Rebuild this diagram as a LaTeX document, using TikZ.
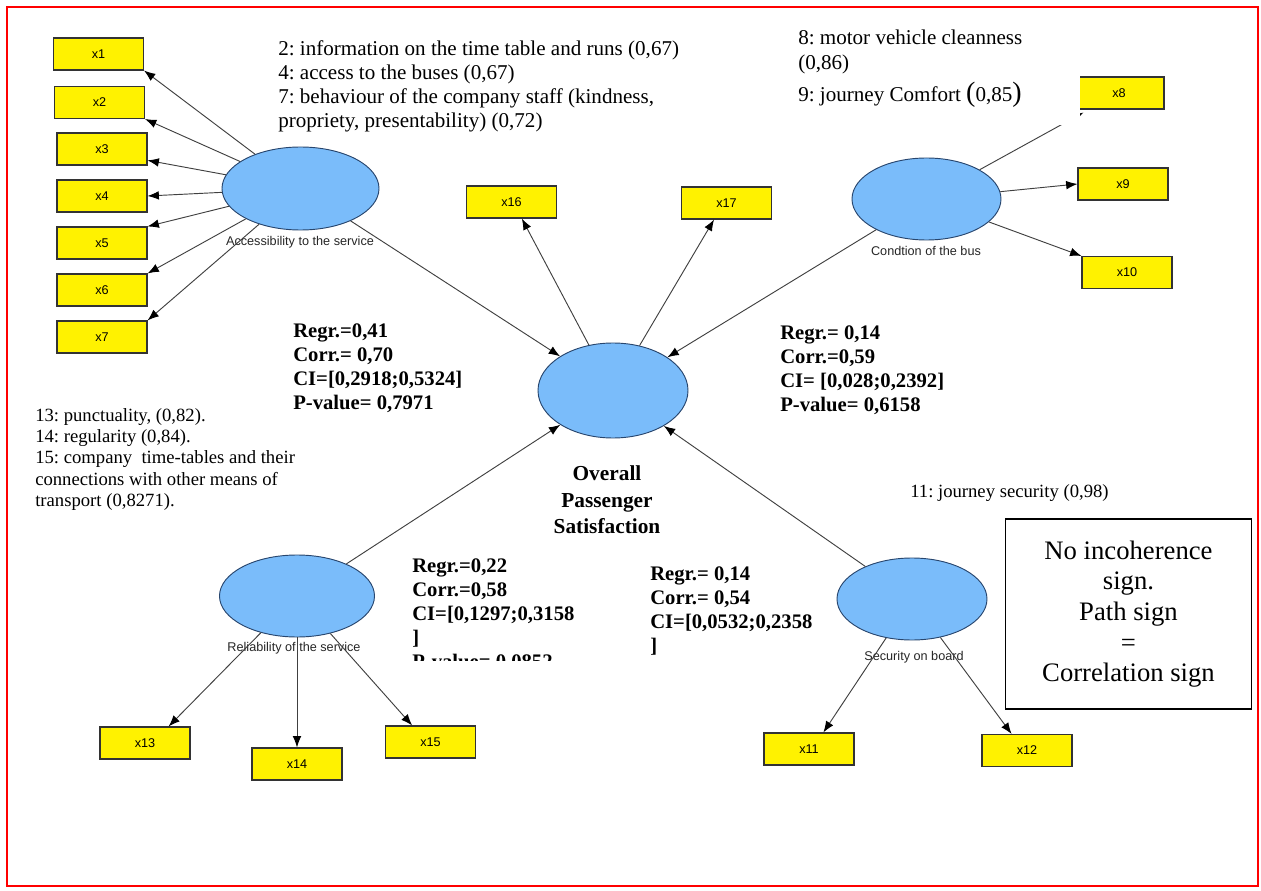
\documentclass[tikz,border=0pt]{standalone}
\usepackage{fontspec}
\setmainfont{Liberation Serif}
\setsansfont{Liberation Sans}
\usetikzlibrary{shapes.geometric,arrows.meta}
\definecolor{latblue}{RGB}{122,188,250}
\definecolor{latedge}{RGB}{40,70,110}
\frenchspacing

\begin{document}
\begin{tikzpicture}[x=0.75pt,y=-0.75pt,
    ind/.style={draw=black!80,line width=0.8pt,fill=yellow,minimum width=67.5pt,minimum height=24pt,
        inner sep=0pt,font=\sffamily\fontsize{9.5}{11}\selectfont},
    lat/.style={ellipse,draw=latedge,line width=0.7pt,fill=latblue,inner sep=0pt},
    lbl/.style={inner sep=0pt,text=black!85,font=\sffamily\fontsize{9.5}{11}\selectfont},
    load/.style={draw=black!75,line width=0.7pt,-{Latex[length=8.5pt,width=6.5pt,color=black]}},
    note/.style={align=left,inner sep=0pt,anchor=north west},
    stat/.style={align=left,inner sep=0pt,anchor=north west,
        font=\bfseries\fontsize{15.5}{18}\selectfont}]
\useasboundingbox (0,0) rectangle (1261,891);
\draw[red,line width=1.5pt] (7,7) rectangle (1258,886);

% latent variables
\node[lat,minimum width=117.75pt,minimum height=62.25pt] (acc) at (300.5,188.5) {};
\node[lat,minimum width=111.75pt,minimum height=61.5pt] (bus) at (926.5,199) {};
\node[lat,minimum width=112.5pt,minimum height=71.25pt] (ov) at (613,390.5) {};
\node[lat,minimum width=116.25pt,minimum height=61.5pt] (rel) at (297,596) {};
\node[lat,minimum width=112.5pt,minimum height=61.5pt] (sec) at (912,599) {};
\node[lbl] (acclbl) at (300,242) {Accessibility to the service};
\node[lbl] (buslbl) at (926,251) {Condtion of the bus};
\node[lbl] (rellbl) at (294,648) {Reliability of the service};
\node[lbl] (seclbl) at (914,657) {Security on board};

% indicators
\node[ind] (x1) at (98.5,54) {x1};
\node[ind] (x2) at (99.5,102.5) {x2};
\node[ind] (x3) at (102,149) {x3};
\node[ind] (x4) at (102,196) {x4};
\node[ind] (x5) at (102,243) {x5};
\node[ind] (x6) at (102,290) {x6};
\node[ind] (x7) at (102,337) {x7};
\node[ind] (x8) at (1119,93) {x8};
\node[ind] (x9) at (1123,184) {x9};
\node[ind] (x10) at (1127,272.5) {x10};
\node[ind] (x16) at (511.5,202) {x16};
\node[ind] (x17) at (726.5,203) {x17};
\node[ind] (x13) at (145,743) {x13};
\node[ind] (x14) at (297,764) {x14};
\node[ind] (x15) at (430.5,742) {x15};
\node[ind] (x11) at (809,749) {x11};
\node[ind] (x12) at (1027,750.5) {x12};

\draw[load] (acc) -- (x1.south east);
\draw[load] (acc) -- (x2.south east);
\draw[load] (acc) -- (x3.-14);
\draw[load] (acc) -- (x4.east);
\draw[load] (acc) -- (x5.north east);
\draw[load] (acc) -- (x6.north east);
\draw[load] (acc) -- (x7.north east);
\draw[load] (bus) -- ([shift={(10,3)}]x8.south west);
\draw[load] (bus) -- (x9.west);
\draw[load] (bus) -- (x10.north west);
\draw[load] (ov) -- (x16.-58);
\draw[load] (ov) -- (x17.-127);
\draw[load] (rel) -- (x13.35);
\draw[load] (rel) -- (x14.north);
\draw[load] (rel) -- (x15.138);
\draw[load] (sec) -- (x11.49);
\draw[load] (sec) -- (x12.133);

% paths to satisfaction
\draw[load] (acc) -- (ov);
\draw[load] (bus) -- (ov);
\draw[load] (rel) -- (ov);
\draw[load] (sec) -- (ov);

\node[font=\bfseries\fontsize{16}{20}\selectfont,align=center,inner sep=0pt] (ovlbl)
    at (607,500) {Overall\\Passenger\\Satisfaction};

% item notes
\node[note,font=\fontsize{15.8}{18}\selectfont] (accnote) at (278,40)
    {2: information on the time table and runs (0,67)\\
     4: access to the buses (0,67)\\
     7: behaviour of the company staff (kindness,\\
     propriety, presentability) (0,72)};
\fill[white] (790,18) rectangle (1080,125);
\node[note,font=\fontsize{15.8}{18.75}\selectfont] (busnote) at (798,30)
    {8: motor vehicle cleanness\\
     (0,86)\\[5pt]
     9: journey Comfort {\fontsize{21}{21}\selectfont(}0,85{\fontsize{21}{21}\selectfont)}};
\node[note,font=\fontsize{14}{16}\selectfont] (relnote) at (35,408)
    {13: punctuality, (0,82).\\
     14: regularity (0,84).\\
     15: company\ \ time-tables and their\\
     connections with other means of\\
     transport (0,8271).};
\node[note,font=\fontsize{14}{16}\selectfont] (secnote) at (910,484)
    {11: journey security (0,98)};

% path estimates
\node[stat] (accstat) at (293,323)
    {Regr.=0,41\\Corr.= 0,70\\CI=[0,2918;0,5324]\\P-value= 0,7971};
\node[stat] (busstat) at (780,325)
    {Regr.= 0,14\\Corr.=0,59\\CI= [0,028;0,2392]\\P-value= 0,6158};
\begin{scope}
\clip (400,540) rectangle (640,660);
\node[stat] (relstat) at (412,558)
    {Regr.=0,22\\Corr.=0,58\\CI=[0,1297;0,3158\\]\\P-value= 0,0852};
\end{scope}
\node[stat] (secstat) at (650,566)
    {Regr.= 0,14\\Corr.= 0,54\\CI=[0,0532;0,2358\\]};

\node[draw,line width=0.8pt,minimum width=185pt,minimum height=142.5pt,align=center,
    font=\fontsize{20}{23}\selectfont] (sign) at (1128.5,614)
    {No incoherence\\sign.\\Path sign\\=\\Correlation sign};
\end{tikzpicture}
\end{document}
